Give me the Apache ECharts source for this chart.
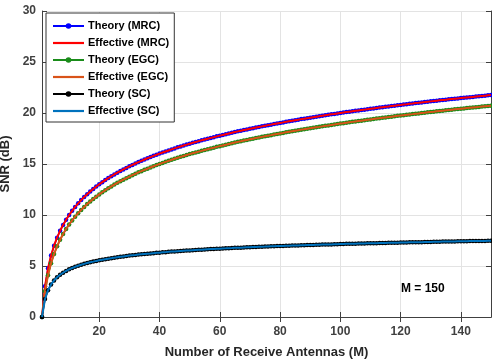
<!DOCTYPE html>
<html><head><meta charset="utf-8">
<script src="https://cdn.jsdelivr.net/npm/echarts@6/dist/echarts.min.js"></script>
<style>html,body{margin:0;padding:0;background:#fff}#c{width:492px;height:364px}</style>
</head><body><div id="c"></div><script>
// Number of receive antennas M = 1..150
const antennas = Array.from({length:150},(_,i)=>String(i+1));
const xTickLabels = ['20','40','60','80','100','120','140'];

const theoryMRC = [
0,3.01,4.77,6.02,6.99,7.78,8.45,9.03,9.54,10.00,
10.41,10.79,11.14,11.46,11.76,12.04,12.30,12.55,12.79,13.01,
13.22,13.42,13.62,13.80,13.98,14.15,14.31,14.47,14.62,14.77,
14.91,15.05,15.19,15.31,15.44,15.56,15.68,15.80,15.91,16.02,
16.13,16.23,16.33,16.43,16.53,16.63,16.72,16.81,16.90,16.99,
17.08,17.16,17.24,17.32,17.40,17.48,17.56,17.63,17.71,17.78,
17.85,17.92,17.99,18.06,18.13,18.20,18.26,18.33,18.39,18.45,
18.51,18.57,18.63,18.69,18.75,18.81,18.86,18.92,18.98,19.03,
19.08,19.14,19.19,19.24,19.29,19.34,19.40,19.44,19.49,19.54,
19.59,19.64,19.68,19.73,19.78,19.82,19.87,19.91,19.96,20.00,
20.04,20.09,20.13,20.17,20.21,20.25,20.29,20.33,20.37,20.41,
20.45,20.49,20.53,20.57,20.61,20.64,20.68,20.72,20.76,20.79,
20.83,20.86,20.90,20.93,20.97,21.00,21.04,21.07,21.11,21.14,
21.17,21.21,21.24,21.27,21.30,21.34,21.37,21.40,21.43,21.46,
21.49,21.52,21.55,21.58,21.61,21.64,21.67,21.70,21.73,21.76];

const effectiveMRC = theoryMRC.slice();

const theoryEGC = [
0,2.52,4.10,5.26,6.17,6.93,7.57,8.13,8.62,9.07,
9.47,9.84,10.18,10.50,10.79,11.07,11.32,11.57,11.80,12.02,
12.23,12.43,12.62,12.80,12.98,13.15,13.31,13.46,13.61,13.76,
13.90,14.04,14.18,14.30,14.43,14.54,14.66,14.78,14.89,15.00,
15.11,15.21,15.31,15.41,15.51,15.61,15.70,15.79,15.88,15.97,
16.05,16.13,16.21,16.29,16.37,16.45,16.53,16.60,16.68,16.75,
16.82,16.89,16.96,17.03,17.10,17.17,17.23,17.30,17.36,17.42,
17.48,17.54,17.60,17.66,17.72,17.78,17.83,17.89,17.95,18.00,
18.05,18.11,18.16,18.21,18.26,18.31,18.37,18.40,18.45,18.50,
18.55,18.60,18.64,18.69,18.74,18.78,18.83,18.87,18.92,18.96,
19.00,19.05,19.09,19.13,19.17,19.21,19.25,19.29,19.33,19.37,
19.41,19.45,19.49,19.53,19.57,19.60,19.64,19.68,19.72,19.75,
19.79,19.82,19.86,19.89,19.93,19.96,20.00,20.03,20.07,20.10,
20.13,20.17,20.20,20.23,20.26,20.30,20.33,20.36,20.39,20.42,
20.45,20.48,20.51,20.54,20.57,20.60,20.63,20.66,20.69,20.72];

const effectiveEGC = theoryEGC.slice();

const theorySC = [
0,1.76,2.63,3.19,3.59,3.89,4.14,4.34,4.52,4.67,
4.80,4.92,5.02,5.12,5.21,5.29,5.37,5.43,5.50,5.56,
5.62,5.67,5.72,5.77,5.82,5.86,5.90,5.94,5.98,6.02,
6.05,6.08,6.12,6.15,6.18,6.21,6.23,6.26,6.29,6.31,
6.34,6.36,6.39,6.41,6.43,6.45,6.47,6.49,6.51,6.53,
6.55,6.57,6.59,6.60,6.62,6.64,6.66,6.67,6.69,6.70,
6.72,6.73,6.75,6.76,6.78,6.79,6.80,6.82,6.83,6.84,
6.86,6.87,6.88,6.89,6.90,6.92,6.93,6.94,6.95,6.96,
6.97,6.98,6.99,7.00,7.01,7.02,7.03,7.04,7.05,7.06,
7.07,7.08,7.09,7.10,7.11,7.12,7.12,7.13,7.14,7.15,
7.16,7.17,7.17,7.18,7.19,7.20,7.21,7.21,7.22,7.23,
7.24,7.24,7.25,7.26,7.26,7.27,7.28,7.29,7.29,7.30,
7.31,7.31,7.32,7.33,7.33,7.34,7.34,7.35,7.36,7.36,
7.37,7.38,7.38,7.39,7.39,7.40,7.40,7.41,7.42,7.42,
7.43,7.43,7.44,7.44,7.45,7.45,7.46,7.46,7.47,7.48];

const effectiveSC = theorySC.slice();

const seriesNames = ['Theory (MRC)','Effective (MRC)','Theory (EGC)','Effective (EGC)','Theory (SC)','Effective (SC)'];
const seriesData = [theoryMRC, effectiveMRC, theoryEGC, effectiveEGC, theorySC, effectiveSC];
const seriesColors = ['#0000ff','#ff0000','#1a8c1a','#d95319','#000000','#0072bd'];
const hasMarker = [true,false,true,false,true,false];

const FONT = 'Arial, "Liberation Sans", sans-serif';
const AX = '#404040';
const tickFn = (idx, val) => xTickLabels.indexOf(String(val)) >= 0;
const lineIcon = 'path://M0 0H31V2.2H0Z';

const chart = echarts.init(document.getElementById('c'), null, {renderer:'canvas'});
chart.setOption({
  animation:false,
  backgroundColor:'#fff',
  grid:{left:42, right:1, top:11, bottom:47, containLabel:false, outerBoundsMode:'none'},
  legend:{
    orient:'vertical', left:46, top:13,
    data:seriesNames.map((n,i)=> hasMarker[i] ? {name:n} : {name:n, icon:lineIcon}),
    itemWidth:31, itemHeight:7, itemGap:5,
    padding:[7,5,5,6],
    backgroundColor:'#fff', borderColor:'#333', borderWidth:1,
    textStyle:{fontFamily:FONT, fontWeight:'bold', fontSize:11, color:'#000', lineHeight:12, padding:[0,0,0,-1]}
  },
  xAxis:[{
    type:'category', data:antennas, boundaryGap:false, position:'bottom',
    name:'Number of Receive Antennas (M)', nameLocation:'middle', nameGap:29,
    nameTextStyle:{fontFamily:FONT, fontWeight:'bold', fontSize:13, color:'#262626'},
    axisLine:{lineStyle:{color:AX, width:1}},
    axisTick:{inside:true, length:5, interval:tickFn, lineStyle:{color:AX}},
    axisLabel:{interval:tickFn, margin:9, fontFamily:FONT, fontWeight:'bold', fontSize:12, color:'#404040'},
    splitLine:{show:true, interval:tickFn, lineStyle:{color:'#e3e3e3', width:1}}
  },{
    type:'category', data:antennas, boundaryGap:false, position:'top',
    axisLine:{lineStyle:{color:AX, width:1}},
    axisTick:{inside:true, length:5, interval:tickFn, lineStyle:{color:AX}},
    axisLabel:{show:false}, splitLine:{show:false}
  }],
  yAxis:[{
    type:'value', min:0, max:30, interval:5, position:'left',
    name:'SNR (dB)', nameLocation:'middle', nameGap:18,
    nameTextStyle:{fontFamily:FONT, fontWeight:'bold', fontSize:13, color:'#262626'},
    axisLine:{show:true, lineStyle:{color:AX, width:1}},
    axisTick:{show:true, inside:true, length:5, lineStyle:{color:AX}},
    axisLabel:{margin:6, fontFamily:FONT, fontWeight:'bold', fontSize:12, color:'#404040'},
    splitLine:{show:true, lineStyle:{color:'#e3e3e3', width:1}}
  },{
    type:'value', min:0, max:30, interval:5, position:'right',
    axisLine:{show:true, lineStyle:{color:AX, width:1}},
    axisTick:{show:true, inside:true, length:5, lineStyle:{color:AX}},
    axisLabel:{show:false}, splitLine:{show:false}
  }],
  series: seriesNames.map((n,i)=>({
    name:n, type:'line', data:seriesData[i], xAxisIndex:0, yAxisIndex:0,
    z: 2 + i,
    symbol: hasMarker[i] ? 'circle' : 'none',
    symbolSize: 4.5, showSymbol: hasMarker[i], showAllSymbol:true,
    color: seriesColors[i],
    itemStyle:{color:seriesColors[i]},
    lineStyle:{color:seriesColors[i], width: hasMarker[i] ? 1.5 : 2},
    emphasis:{disabled:true}, silent:true
  })),
  graphic:[{
    type:'text', left:401, top:283,
    style:{text:'M = 150', font:'bold 12px ' + FONT, fill:'#000'}
  }]
});
</script></body></html>
